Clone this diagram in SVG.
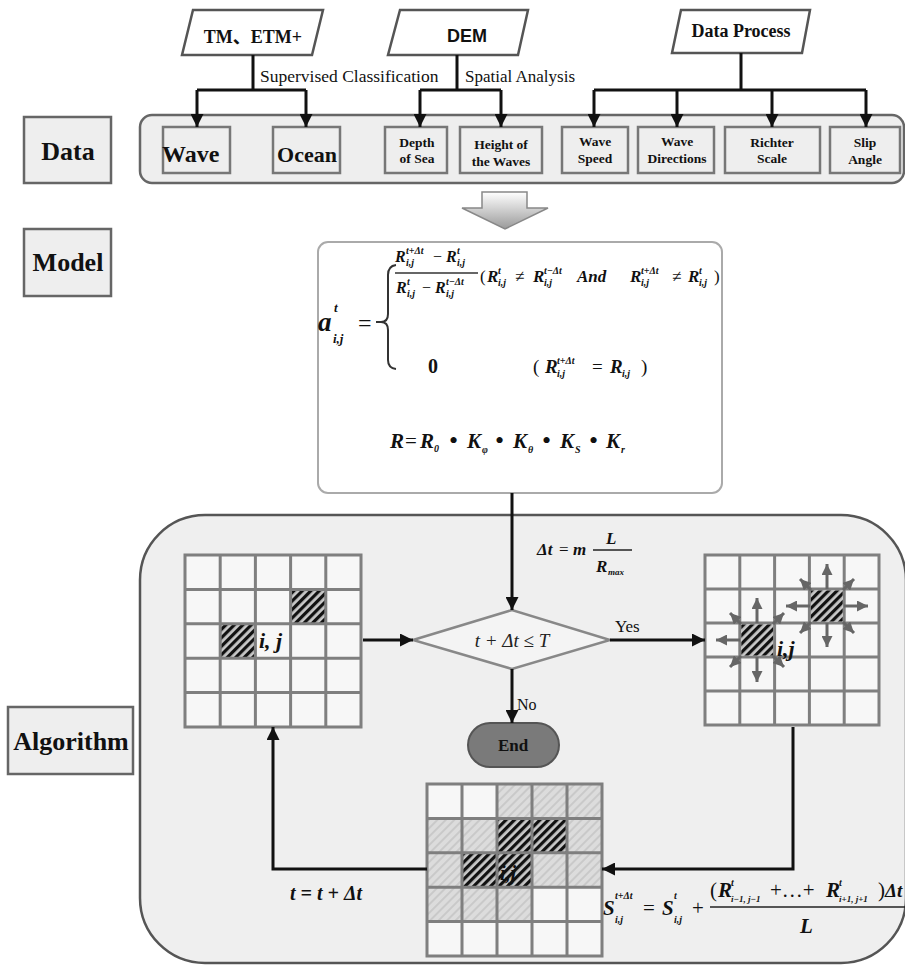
<svg xmlns="http://www.w3.org/2000/svg" width="905" height="965" viewBox="0 0 905 965">
<style>
.t{font-family:"Liberation Serif","Noto Sans CJK SC",serif;fill:#111}
.b{font-weight:bold}
.it{font-family:"Liberation Serif",serif;font-style:italic;font-weight:bold;fill:#111}
.sm{font-size:10px}
.box{fill:#eeeeee;stroke:#666;stroke-width:2.5}
.sbox{fill:#eeeeee;stroke:#777;stroke-width:2.5}
.para{fill:#fff;stroke:#555;stroke-width:2.5}
.con{fill:none;stroke:#111;stroke-width:3}
.grid{fill:none;stroke:#7f7f7f;stroke-width:3}
.garr{fill:none;stroke:#666;stroke-width:3;marker-end:url(#ga)}
</style>
<defs>
<marker id="ah" viewBox="0 0 10 10" refX="10" refY="5" markerWidth="13" markerHeight="13" markerUnits="userSpaceOnUse" orient="auto"><path d="M0,0 L10,5 L0,10 z" fill="#111"/></marker>
<marker id="ga" viewBox="0 0 10 10" refX="10" refY="5" markerWidth="11" markerHeight="11" markerUnits="userSpaceOnUse" orient="auto"><path d="M0,0 L10,5 L0,10 z" fill="#666"/></marker>
<pattern id="hd" width="6" height="6" patternUnits="userSpaceOnUse" patternTransform="rotate(45)"><rect width="6" height="6" fill="#c8c8c8"/><rect width="3.2" height="6" fill="#111"/></pattern>
<pattern id="hl" width="6" height="6" patternUnits="userSpaceOnUse" patternTransform="rotate(45)"><rect width="6" height="6" fill="#dcdcdc"/><rect width="2" height="6" fill="#c9c9c9"/></pattern>
<linearGradient id="ag" x1="0" y1="0" x2="0" y2="1"><stop offset="0" stop-color="#ffffff"/><stop offset="1" stop-color="#9a9a9a"/></linearGradient>
</defs>

<rect width="905" height="965" fill="#fff"/>

<!-- Section labels -->
<g id="label-data"><rect class="box" x="24" y="117" width="87" height="66"/><text class="t b" x="68" y="160" font-size="26" text-anchor="middle">Data</text></g>
<g id="label-model"><rect class="box" x="24" y="229" width="87" height="67"/><text class="t b" x="68" y="271" font-size="26" text-anchor="middle">Model</text></g>
<g id="label-algorithm"><rect class="box" x="8" y="707" width="125" height="67"/><text class="t b" x="71" y="750" font-size="26" text-anchor="middle">Algorithm</text></g>

<!-- Sources -->
<g id="src-tm"><polygon class="para" points="193,10 323,10 312,55 182,55"/><text class="t b" x="253" y="43" font-size="18" text-anchor="middle">TM、ETM+</text></g>
<g id="src-dem"><polygon class="para" points="400,10 528,10 518,55 388,55"/><text x="467" y="42" font-size="18" font-weight="bold" font-family="Liberation Sans, Arial, sans-serif" fill="#111" text-anchor="middle">DEM</text></g>
<g id="src-dp"><polygon class="para" points="681,10 810,10 802,53 672,53"/><text class="t b" x="741" y="37" font-size="18" text-anchor="middle">Data Process</text></g>

<text class="t" x="260" y="82" font-size="17.5">Supervised Classification</text>
<text class="t" x="465" y="82" font-size="17">Spatial Analysis</text>

<!-- Data container -->
<g id="data-container"><rect x="140" y="115" width="764" height="68" rx="12" fill="#eeeeee" stroke="#666" stroke-width="2.5"/></g>
<g id="d-wave"><rect class="sbox" x="163" y="127" width="67" height="46"/><text class="t b" x="162" y="162" font-size="24">Wave</text></g>
<g id="d-ocean"><rect class="sbox" x="273" y="127" width="67" height="46"/><text class="t b" x="307" y="162" font-size="22" text-anchor="middle">Ocean</text></g>
<g id="d-depth"><rect class="sbox" x="385" y="127" width="62" height="46"/><text class="t b" x="417" y="147" font-size="13.5" text-anchor="middle">Depth</text><text class="t b" x="417" y="163" font-size="13.5" text-anchor="middle">of Sea</text></g>
<g id="d-height"><rect class="sbox" x="460" y="127" width="82" height="46"/><text class="t b" x="501" y="149" font-size="13.5" text-anchor="middle">Height of</text><text class="t b" x="501" y="166" font-size="13.5" text-anchor="middle">the Waves</text></g>
<g id="d-speed"><rect class="sbox" x="562" y="127" width="66" height="46"/><text class="t b" x="595" y="146" font-size="13.5" text-anchor="middle">Wave</text><text class="t b" x="595" y="163" font-size="13.5" text-anchor="middle">Speed</text></g>
<g id="d-dir"><rect class="sbox" x="638" y="127" width="76" height="46"/><text class="t b" x="677" y="146" font-size="13.5" text-anchor="middle">Wave</text><text class="t b" x="677" y="163" font-size="13.5" text-anchor="middle">Directions</text></g>
<g id="d-richter"><rect class="sbox" x="725" y="127" width="95" height="46"/><text class="t b" x="772" y="147" font-size="13.5" text-anchor="middle">Richter</text><text class="t b" x="772" y="163" font-size="13.5" text-anchor="middle">Scale</text></g>
<g id="d-slip"><rect class="sbox" x="830" y="127" width="70" height="46"/><text class="t b" x="865" y="147" font-size="13.5" text-anchor="middle">Slip</text><text class="t b" x="865" y="164" font-size="13.5" text-anchor="middle">Angle</text></g>

<!-- Big hollow arrow -->
<g id="big-arrow"><polygon points="482,192 527,192 527,208 548,208 505,229 462,208 482,208" fill="url(#ag)" stroke="#888" stroke-width="1.5"/></g>

<!-- Model box -->
<g id="model">
<rect x="318" y="242" width="404" height="251" rx="10" fill="#fff" stroke="#aaa" stroke-width="2"/>
<text class="it" x="318" y="331" font-size="27">a</text>
<text class="it" x="334" y="312" font-size="13">t</text>
<text class="it" x="333" y="343" font-size="13">i,j</text>
<text class="t" x="358" y="331" font-size="24">=</text>
<path d="M376,322 H381" stroke="#333" stroke-width="2"/>
<path d="M396,265 Q388,266 388,275 V314 Q388,322 381,322 Q388,322 388,330 V360 Q388,368 396,369" fill="none" stroke="#333" stroke-width="2"/>
<!-- numerator -->
<text class="it" x="395" y="262" font-size="16">R</text><text class="it sm" x="406" y="254">t+Δt</text><text class="it sm" x="406" y="266">i,j</text>
<text class="t" x="433" y="262" font-size="16">−</text>
<text class="it" x="446" y="262" font-size="16">R</text><text class="it sm" x="457" y="254">t</text><text class="it sm" x="457" y="266">i,j</text>
<line x1="395" y1="273" x2="478" y2="273" stroke="#333" stroke-width="1.5"/>
<text class="it" x="396" y="293" font-size="16">R</text><text class="it sm" x="407" y="285">t</text><text class="it sm" x="407" y="297">i,j</text>
<text class="t" x="422" y="293" font-size="16">−</text>
<text class="it" x="435" y="293" font-size="16">R</text><text class="it sm" x="446" y="285">t−Δt</text><text class="it sm" x="446" y="297">i,j</text>
<!-- condition -->
<text class="t" x="480" y="282" font-size="17">(</text>
<text class="it" x="487" y="282" font-size="17">R</text><text class="it sm" x="498" y="274">t</text><text class="it sm" x="498" y="286">i,j</text>
<text class="t" x="515" y="282" font-size="17">≠</text>
<text class="it" x="533" y="282" font-size="17">R</text><text class="it sm" x="544" y="274">t−Δt</text><text class="it sm" x="544" y="286">i,j</text>
<text class="it" x="577" y="282" font-size="17">And</text>
<text class="it" x="630" y="282" font-size="17">R</text><text class="it sm" x="641" y="274">t+Δt</text><text class="it sm" x="641" y="286">i,j</text>
<text class="t" x="672" y="282" font-size="17">≠</text>
<text class="it" x="688" y="282" font-size="17">R</text><text class="it sm" x="699" y="274">t</text><text class="it sm" x="699" y="286">i,j</text>
<text class="t" x="714" y="282" font-size="17">)</text>
<!-- zero row -->
<text class="t b" x="428" y="373" font-size="20">0</text>
<text class="t" x="533" y="373" font-size="19">(</text>
<text class="it" x="545" y="373" font-size="19">R</text><text class="it sm" x="557" y="364">t+Δt</text><text class="it sm" x="557" y="377">i,j</text>
<text class="t" x="592" y="373" font-size="19">=</text>
<text class="it" x="610" y="373" font-size="19">R</text><text class="it sm" x="622" y="377">i,j</text>
<text class="t" x="641" y="373" font-size="19">)</text>
<!-- R formula -->
<text class="it" x="390" y="448" font-size="21">R</text>
<text class="t" x="405" y="448" font-size="21">=</text>
<text class="it" x="420" y="448" font-size="21">R</text><text class="it sm" x="434" y="452">0</text>
<text class="t" x="449" y="449" font-size="26">•</text>
<text class="it" x="467" y="448" font-size="21">K</text><text class="it sm" x="482" y="453">φ</text>
<text class="t" x="495" y="449" font-size="26">•</text>
<text class="it" x="513" y="448" font-size="21">K</text><text class="it sm" x="528" y="453">θ</text>
<text class="t" x="542" y="449" font-size="26">•</text>
<text class="it" x="560" y="448" font-size="21">K</text><text class="it sm" x="575" y="453">S</text>
<text class="t" x="589" y="449" font-size="26">•</text>
<text class="it" x="606" y="448" font-size="21">K</text><text class="it sm" x="621" y="453">r</text>
</g>

<!-- Algorithm container -->
<g id="algorithm-container"><rect x="140" y="515" width="766" height="448" rx="65" fill="#efefef" stroke="#555" stroke-width="2.5"/></g>

<!-- Grid 1 -->
<g id="grid1">
<rect x="185" y="555" width="176" height="172" fill="#f7f7f7"/>
<rect x="290.6" y="589.4" width="35.2" height="34.4" fill="url(#hd)"/>
<rect x="220.2" y="623.8" width="35.2" height="34.4" fill="url(#hd)"/>
<path class="grid" d="M185,555 H361 V727 H185 Z M220.2,555 V727 M255.4,555 V727 M290.6,555 V727 M325.8,555 V727 M185,589.4 H361 M185,623.8 H361 M185,658.2 H361 M185,692.6 H361"/>
<text class="it" x="259" y="648" font-size="22">i, j</text>
</g>

<!-- Grid 2 -->
<g id="grid2">
<rect x="705" y="555" width="174" height="170" fill="#f7f7f7"/>
<path class="grid" d="M705,555 H879 V725 H705 Z M739.8,555 V725 M774.6,555 V725 M809.4,555 V725 M844.2,555 V725 M705,589 H879 M705,623 H879 M705,657 H879 M705,691 H879"/>
<path class="garr" d="M757,623 V598"/>
<path class="garr" d="M757,657 V682"/>
<path class="garr" d="M740,640 H716"/>
<path class="garr" d="M741,624 L730,613"/>
<path class="garr" d="M773,624 L784,613"/>
<path class="garr" d="M741,656 L730,667"/>
<path class="garr" d="M773,656 L784,667"/>
<path class="garr" d="M827,589 V564"/>
<path class="garr" d="M827,623 V647"/>
<path class="garr" d="M810,606 H786"/>
<path class="garr" d="M844,606 H868"/>
<path class="garr" d="M811,590 L800,579"/>
<path class="garr" d="M843,590 L854,579"/>
<path class="garr" d="M811,622 L800,633"/>
<path class="garr" d="M843,622 L854,633"/>
<rect x="741.3" y="624.5" width="31.8" height="31" fill="url(#hd)"/>
<rect x="810.9" y="590.5" width="31.8" height="31" fill="url(#hd)"/>
<text class="it" x="777" y="656" font-size="22">i,j</text>
</g>

<!-- Grid 3 -->
<g id="grid3">
<rect x="427" y="784" width="175" height="172" fill="#f7f7f7"/>
<g fill="url(#hl)">
<rect x="497" y="784" width="105" height="34.4"/>
<rect x="427" y="818.4" width="70" height="34.4"/>
<rect x="567" y="818.4" width="35" height="34.4"/>
<rect x="427" y="852.8" width="35" height="34.4"/>
<rect x="532" y="852.8" width="70" height="34.4"/>
<rect x="427" y="887.2" width="105" height="34.4"/>
</g>
<g fill="url(#hd)">
<rect x="497" y="818.4" width="70" height="34.4"/>
<rect x="462" y="852.8" width="70" height="34.4"/>
</g>
<path class="grid" d="M427,784 H602 V956 H427 Z M462,784 V956 M497,784 V956 M532,784 V956 M567,784 V956 M427,818.4 H602 M427,852.8 H602 M427,887.2 H602 M427,921.6 H602"/>
<text class="it" x="500" y="880" font-size="20" fill="#222">i,j</text>
</g>

<!-- Decision -->
<g id="decision">
<polygon points="413,640 512,610 610,640 512,669" fill="#f4f4f4" stroke="#888" stroke-width="2.5"/>
<text x="512" y="647" font-size="19" font-family="Liberation Serif, serif" font-style="italic" fill="#222" text-anchor="middle">t + Δt ≤ T</text>
</g>

<!-- End -->
<g id="end"><rect x="468" y="723" width="91" height="44" rx="22" fill="#7a7a7a" stroke="#555" stroke-width="2"/><text class="t b" x="513" y="751" font-size="17" text-anchor="middle">End</text></g>

<!-- Connectors -->
<g id="connectors">
<path class="con" d="M253,55 V90 M197,90 H306"/>
<path class="con" d="M197,90 V127" marker-end="url(#ah)"/>
<path class="con" d="M306,90 V127" marker-end="url(#ah)"/>
<path class="con" d="M457,55 V90 M420,90 H501"/>
<path class="con" d="M420,90 V127" marker-end="url(#ah)"/>
<path class="con" d="M501,90 V127" marker-end="url(#ah)"/>
<path class="con" d="M741,53 V90 M594,90 H866"/>
<path class="con" d="M594,90 V127" marker-end="url(#ah)"/>
<path class="con" d="M677,90 V127" marker-end="url(#ah)"/>
<path class="con" d="M772,90 V127" marker-end="url(#ah)"/>
<path class="con" d="M866,90 V127" marker-end="url(#ah)"/>
<path class="con" d="M512,493 V610" marker-end="url(#ah)"/>
<path class="con" d="M363,640 H413" marker-end="url(#ah)"/>
<path class="con" d="M610,640 H705" marker-end="url(#ah)"/>
<path class="con" d="M512,669 V723" marker-end="url(#ah)"/>
<path class="con" d="M793,727 V869 H602" marker-end="url(#ah)"/>
<path class="con" d="M427,869 H273 V727" marker-end="url(#ah)"/>
</g>

<!-- Connector labels -->
<text class="t" x="615" y="632" font-size="17">Yes</text>
<text class="t" x="517" y="710" font-size="16">No</text>

<g id="dt-formula">
<text class="it" x="537" y="555" font-size="17">Δt</text>
<text class="t" x="559" y="555" font-size="17">=</text>
<text class="it" x="573" y="555" font-size="17">m</text>
<line x1="593" y1="550" x2="632" y2="550" stroke="#222" stroke-width="1.5"/>
<text class="it" x="606" y="544" font-size="17">L</text>
<text class="it" x="596" y="572" font-size="17">R</text><text class="it" x="608" y="575" font-size="9">max</text>
</g>

<text class="it" x="290" y="900" font-size="20">t = t + Δt</text>

<g id="s-formula">
<text class="it" x="603" y="915" font-size="21">S</text><text class="it sm" x="615" y="899">t+Δt</text><text class="it sm" x="615" y="923">i,j</text>
<text class="t" x="643" y="915" font-size="21">=</text>
<text class="it" x="662" y="915" font-size="21">S</text><text class="it sm" x="674" y="899">t</text><text class="it sm" x="674" y="923">i,j</text>
<text class="t" x="692" y="915" font-size="21">+</text>
<line x1="710" y1="907" x2="905" y2="907" stroke="#222" stroke-width="1.5"/>
<text class="t" x="710" y="897" font-size="21">(</text>
<text class="it" x="718" y="897" font-size="21">R</text><text class="it sm" x="731" y="886">t</text><text class="it" x="731" y="902" font-size="9">i−1, j−1</text>
<text class="t" x="770" y="897" font-size="21">+…+</text>
<text class="it" x="826" y="897" font-size="21">R</text><text class="it sm" x="839" y="886">t</text><text class="it" x="839" y="902" font-size="9">i+1, j+1</text>
<text class="t" x="878" y="897" font-size="21">)</text>
<text class="it" x="885" y="897" font-size="19">Δt</text>
<text class="it" x="800" y="933" font-size="21">L</text>
</g>
</svg>
